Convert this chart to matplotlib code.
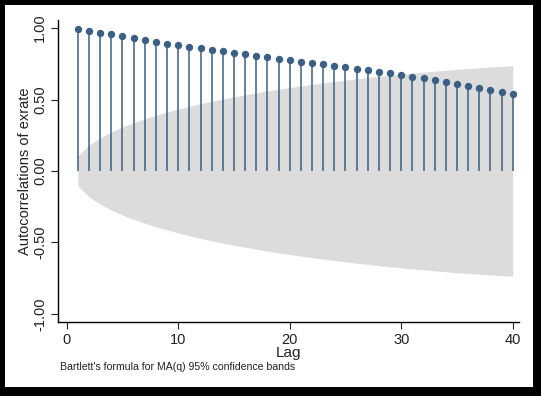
import matplotlib.pyplot as plt
from matplotlib import patches

# autocorrelations of exrate, lags 1..40
lags = list(range(1, 41))
acf = [
    0.990, 0.979, 0.967, 0.956, 0.944, 0.930, 0.917, 0.904, 0.891, 0.881,
    0.870, 0.859, 0.848, 0.837, 0.827, 0.816, 0.806, 0.795, 0.783, 0.774,
    0.765, 0.757, 0.748, 0.736, 0.725, 0.715, 0.704, 0.694, 0.683, 0.671,
    0.659, 0.650, 0.636, 0.624, 0.610, 0.594, 0.580, 0.569, 0.550, 0.536,
]
# Bartlett 95% band half-width per lag
band = [
    0.105, 0.181, 0.232, 0.273, 0.308, 0.338, 0.365, 0.390, 0.412, 0.433,
    0.452, 0.471, 0.488, 0.504, 0.519, 0.533, 0.547, 0.560, 0.572, 0.584,
    0.595, 0.606, 0.616, 0.626, 0.635, 0.645, 0.653, 0.662, 0.670, 0.677,
    0.685, 0.691, 0.698, 0.705, 0.711, 0.716, 0.722, 0.727, 0.732, 0.736,
]
xticks = [0, 10, 20, 30, 40]
yticks = [-1.0, -0.5, 0.0, 0.5, 1.0]

plt.rcParams["font.family"] = ["Liberation Sans", "DejaVu Sans"]

W, H = 541, 396
fig = plt.figure(figsize=(W / 100, H / 100), dpi=100, facecolor="black")
fig.patches.append(
    patches.Rectangle((5 / W, 1 - 387 / H), 528 / W, 382 / H,
                      transform=fig.transFigure, facecolor="white",
                      edgecolor="none", zorder=-5)
)

ax = fig.add_axes([58 / W, 1 - 322 / H, 461 / W, 302 / H])
ax.set_facecolor("white")

lo = [-b for b in band]
ax.fill_between(lags, lo, band, color="#dcdcdc", linewidth=0, zorder=1)

stem_color = "#3b5f85"
ax.vlines(lags, 0, acf, color=stem_color, linewidth=1.1, zorder=2)
ax.plot(lags, acf, "o", color=stem_color, markersize=4.3, zorder=3)

ax.set_xlim(-0.78, 40.56)
ax.set_ylim(-1.056, 1.056)
ax.set_xticks(xticks)
ax.set_yticks(yticks)
ax.set_yticklabels([f"{v:.2f}" for v in yticks], rotation=90, va="center")

for s in ["top", "right"]:
    ax.spines[s].set_visible(False)
for s in ["left", "bottom"]:
    ax.spines[s].set_linewidth(1.0)
    ax.spines[s].set_color("black")

ax.tick_params(axis="both", labelsize=10.5, colors="#222222", length=5, width=0.8)
ax.tick_params(axis="y", pad=3)
ax.tick_params(axis="x", pad=3)

ax.set_xlabel("Lag", fontsize=11, color="#222222")
ax.xaxis.set_label_coords(0.5, -0.08)
ax.set_ylabel("Autocorrelations of exrate", fontsize=10.5, color="#222222", va="center")
ax.yaxis.set_label_coords(-0.072, 0.5)

fig.text(60 / W, 1 - 367 / H, "Bartlett's formula for MA(q) 95% confidence bands",
         fontsize=7.6, va="center", ha="left", color="#222222")

fig.savefig("out.png", dpi=100, facecolor="black")
